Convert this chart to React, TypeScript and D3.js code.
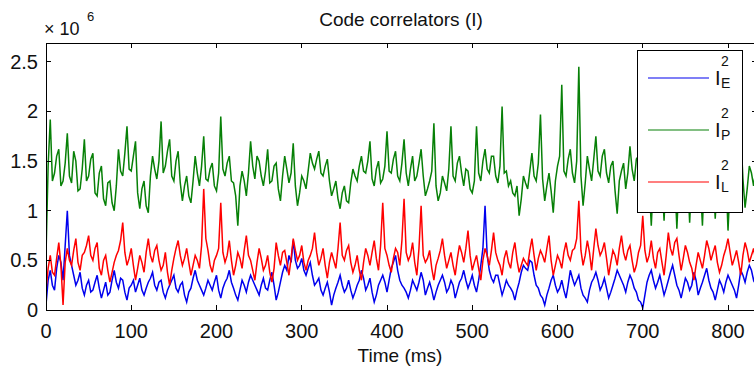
import React from "react";
import * as d3 from "d3";

// samples every 2.5 ms, values in units of 1e6
const SAMPLE_MS = 2.5;

const iP2 = [
  0.55, 1.45, 1.92, 1.3, 1.38, 1.55, 1.62, 1.25, 1.3, 1.48, 1.78, 1.35, 1.28, 1.6, 1.5, 1.2, 1.22, 1.42, 1.72, 1.3,
  1.35, 1.52, 1.58, 1.18, 1.15, 1.38, 1.45, 1.12, 1.05, 1.28, 1.3, 1.08, 1.0, 1.25, 1.62, 1.4, 1.35, 1.58, 1.85, 1.42,
  1.4, 1.55, 1.7, 1.18, 1.02, 1.22, 1.3, 1.05, 0.98, 1.35, 1.55, 1.42, 1.32, 1.5, 1.9, 1.38, 1.45, 1.6, 1.72, 1.35,
  1.3, 1.5, 1.6, 1.28, 1.1, 1.25, 1.35, 1.15, 1.08, 1.3, 1.55, 1.38, 1.25, 1.45, 1.75, 1.32, 1.3, 1.42, 1.48, 1.25,
  1.2, 1.38, 1.95, 1.42, 1.35, 1.48, 1.55, 1.3, 1.28, 1.15, 0.85, 1.25, 1.4, 1.3, 1.15, 1.38, 1.7, 1.45, 1.32, 1.55,
  1.5, 1.35, 1.25, 1.4, 1.62, 1.28, 1.3, 1.45, 1.48, 1.22, 1.1, 1.35, 1.55, 1.42, 1.28, 1.38, 1.68, 1.25, 1.05, 1.18,
  1.35, 1.3, 1.22, 1.4, 1.58, 1.48, 1.42, 1.52, 1.6, 1.38, 1.35, 1.45, 1.52, 1.3, 1.15, 1.22, 1.3, 1.12, 1.02, 1.18,
  1.25, 1.1, 1.08, 1.28, 1.42, 1.35, 1.3, 1.45, 1.55, 1.4, 1.38, 1.5, 1.7, 1.32, 1.25, 1.42, 1.5, 1.28, 1.32, 1.45,
  1.8, 1.4, 1.38, 1.52, 1.6, 1.35, 1.3, 1.48, 1.72, 1.38, 1.25, 1.42, 1.55, 1.3, 1.35, 1.48, 1.62, 1.35, 1.15, 1.22,
  1.3, 1.4, 1.88, 1.25, 1.1, 1.18, 1.35, 1.28, 1.2, 1.42, 1.85, 1.35, 1.3, 1.48, 1.55, 1.38, 1.25, 1.42, 1.4, 1.22,
  1.18, 1.3, 1.85, 1.38, 1.3, 1.5, 1.62, 1.42, 1.38, 1.55, 1.55, 1.35, 1.28, 1.45, 2.05, 1.38, 1.4, 1.25, 1.3, 1.18,
  1.15, 1.25, 0.95, 1.12, 1.35, 1.28, 1.22, 1.4, 1.58, 1.35, 1.3, 1.48, 1.97, 1.32, 1.1, 1.25, 1.38, 1.2, 0.98, 1.3,
  1.45, 1.55, 2.27, 1.4, 1.35, 1.52, 1.62, 1.38, 1.28, 1.5, 2.45, 1.35, 1.05, 1.28, 1.55, 1.42, 1.3, 1.52, 1.75, 1.4,
  1.35, 1.55, 1.62, 1.38, 1.28, 1.45, 1.5, 1.2, 0.97, 1.3, 1.4, 1.48, 1.22, 1.38, 1.65, 1.42, 1.3, 1.52, 1.55, 1.35,
  1.2, 1.4, 1.45, 1.28, 0.85, 1.32, 1.35, 1.45, 1.5, 1.3, 0.9, 1.38, 1.4, 1.5, 1.28, 1.35, 0.82, 1.3, 1.45, 1.42,
  1.3, 1.38, 0.88, 1.35, 1.5, 1.45, 1.32, 1.28, 0.85, 1.4, 1.38, 1.48, 1.25, 1.35, 0.92, 1.3, 1.42, 1.5, 1.3, 1.38,
  0.8, 1.28, 1.35, 1.45, 1.48, 1.55, 1.78, 1.32, 1.03, 1.22, 1.45, 1.38, 1.25, 1.4,
];

const iL2 = [
  0.2, 0.42, 0.55, 0.38, 0.35, 0.52, 0.68, 0.45, 0.05, 0.48, 0.62, 0.5, 0.45, 0.6, 0.72, 0.48, 0.4, 0.55, 0.58, 0.65,
  0.75, 0.55, 0.5, 0.62, 0.68, 0.42, 0.35, 0.5, 0.55, 0.4, 0.28, 0.38, 0.48, 0.55, 0.6, 0.7, 0.88, 0.58, 0.45, 0.52,
  0.62, 0.45, 0.3, 0.42, 0.55, 0.48, 0.38, 0.58, 0.72, 0.55, 0.48, 0.6, 0.65, 0.5, 0.4, 0.45, 0.58, 0.38, 0.25, 0.4,
  0.52, 0.62, 0.7, 0.55, 0.45, 0.52, 0.62, 0.48, 0.35, 0.45, 0.55, 0.5, 0.42, 0.65, 1.22, 0.72, 0.6, 0.45, 0.38, 0.5,
  0.55, 0.62, 1.08, 0.58, 0.48, 0.55, 0.7, 0.5, 0.35, 0.45, 0.58, 0.52, 0.42, 0.6, 0.75, 0.55, 0.5, 0.4, 0.3, 0.48,
  0.62, 0.52, 0.4, 0.45, 0.55, 0.38, 0.28, 0.42, 0.68, 0.55, 0.45, 0.58, 0.6, 0.48, 0.35, 0.52, 0.72, 0.6, 0.5, 0.55,
  0.65, 0.48, 0.4, 0.5, 0.55, 0.62, 0.78, 0.58, 0.45, 0.52, 0.62, 0.45, 0.32, 0.48, 0.58, 0.5, 0.42, 0.62, 0.88, 0.55,
  0.5, 0.6, 0.65, 0.48, 0.38, 0.45, 0.55, 0.4, 0.3, 0.48, 0.62, 0.55, 0.45, 0.58, 0.7, 0.52, 0.4, 0.65, 1.08, 0.62,
  0.55, 0.45, 0.38, 0.52, 0.62, 0.58, 0.45, 0.7, 1.12, 0.58, 0.5, 0.55, 0.68, 0.48, 0.35, 0.62, 1.05, 0.55, 0.48, 0.52,
  0.6, 0.42, 0.3, 0.45, 0.52, 0.6, 0.72, 0.55, 0.42, 0.5, 0.58, 0.45, 0.35, 0.52, 0.65, 0.58, 0.48, 0.62, 0.8, 0.55,
  0.4, 0.48, 0.55, 0.42, 0.3, 0.5, 0.62, 0.55, 0.45, 0.6, 0.78, 0.58, 0.5, 0.45, 0.35, 0.52, 0.6, 0.48, 0.42, 0.58,
  0.68, 0.5, 0.38, 0.45, 0.52, 0.48, 0.45, 0.6, 0.72, 0.55, 0.4, 0.52, 0.6, 0.55, 0.48, 0.62, 0.75, 0.5, 0.35, 0.45,
  0.55, 0.5, 0.42, 0.58, 0.68, 0.55, 0.5, 0.6, 0.62, 0.72, 1.1, 0.6, 0.45, 0.55, 0.7, 0.58, 0.4, 0.62, 0.82, 0.65,
  0.55, 0.6, 0.68, 0.52, 0.35, 0.48, 0.6, 0.55, 0.45, 0.62, 0.75, 0.58, 0.5, 0.6, 0.65, 0.5, 0.38, 0.45, 0.58, 0.65,
  0.95, 0.6, 0.48, 0.55, 0.7, 0.52, 0.42, 0.58, 0.62, 0.48, 0.35, 0.55, 0.78, 0.62, 0.55, 0.68, 0.72, 0.55, 0.4, 0.52,
  0.65, 0.58, 0.48, 0.42, 0.3, 0.45, 0.58, 0.5, 0.42, 0.55, 0.7, 0.62, 0.5, 0.58, 0.65, 0.48, 0.38, 0.45, 0.55, 0.62,
  0.72, 0.58, 0.45, 0.52, 0.6, 0.48, 0.35, 0.55, 0.68, 0.6, 0.48, 0.55, 0.62, 0.5,
];

const iE2 = [
  0.05, 0.3, 0.4, 0.25, 0.2, 0.42, 0.55, 0.48, 0.3, 0.65, 1.0, 0.55, 0.45, 0.35, 0.25, 0.3, 0.38, 0.22, 0.15, 0.25,
  0.3, 0.18, 0.2, 0.28, 0.35, 0.22, 0.12, 0.2, 0.28, 0.15, 0.18, 0.3, 0.4, 0.28, 0.22, 0.32, 0.3, 0.18, 0.1, 0.22,
  0.25, 0.3, 0.18, 0.25, 0.32, 0.2, 0.15, 0.22, 0.28, 0.32, 0.38, 0.25, 0.2, 0.28, 0.3, 0.18, 0.12, 0.2, 0.25, 0.3,
  0.35, 0.22, 0.18, 0.25, 0.28, 0.15, 0.08, 0.18, 0.22, 0.32, 0.4, 0.3, 0.25, 0.2, 0.15, 0.22, 0.3, 0.25, 0.2, 0.28,
  0.35, 0.2, 0.12, 0.22, 0.28, 0.32, 0.4, 0.28, 0.22, 0.15, 0.1, 0.2, 0.3, 0.25, 0.18, 0.28, 0.35, 0.3, 0.25, 0.2,
  0.15, 0.25, 0.32, 0.22, 0.2, 0.3, 0.38, 0.25, 0.1, 0.18, 0.28, 0.38, 0.45, 0.4, 0.55, 0.48, 0.7, 0.5, 0.42, 0.45,
  0.52, 0.4, 0.35, 0.42, 0.48, 0.35, 0.25, 0.28, 0.32, 0.2, 0.15, 0.22, 0.28, 0.18, 0.05, 0.15, 0.22, 0.28, 0.35, 0.25,
  0.18, 0.22, 0.3, 0.2, 0.12, 0.18, 0.25, 0.3, 0.4, 0.32, 0.2, 0.25, 0.32, 0.18, 0.08, 0.15, 0.25, 0.3, 0.35, 0.28,
  0.18, 0.3, 0.42, 0.48, 0.55, 0.4, 0.3, 0.25, 0.22, 0.18, 0.12, 0.2, 0.3, 0.25, 0.2, 0.28, 0.38, 0.3, 0.15, 0.22,
  0.28, 0.2, 0.1, 0.18, 0.25, 0.3, 0.35, 0.28, 0.18, 0.22, 0.3, 0.25, 0.12, 0.2, 0.28, 0.32, 0.4, 0.3, 0.22, 0.28,
  0.35, 0.25, 0.18, 0.3, 0.45, 0.62, 1.05, 0.55, 0.4, 0.32, 0.28, 0.35, 0.35, 0.25, 0.15, 0.22, 0.3, 0.25, 0.22, 0.18,
  0.1, 0.2, 0.28, 0.38, 0.45, 0.42, 0.4, 0.5, 0.48, 0.35, 0.25, 0.22, 0.15, 0.12, 0.05, 0.15, 0.22, 0.3, 0.35, 0.25,
  0.18, 0.22, 0.3, 0.2, 0.12, 0.25, 0.4, 0.32, 0.25, 0.3, 0.35, 0.22, 0.15, 0.12, 0.08, 0.2, 0.28, 0.32, 0.38, 0.3,
  0.2, 0.25, 0.32, 0.22, 0.12, 0.18, 0.25, 0.32, 0.4, 0.35, 0.3, 0.25, 0.18, 0.28, 0.35, 0.3, 0.22, 0.18, 0.1, 0.08,
  0.02, 0.15, 0.28, 0.35, 0.4, 0.3, 0.22, 0.28, 0.35, 0.25, 0.15, 0.22, 0.3, 0.38, 0.45, 0.35, 0.25, 0.2, 0.12, 0.22,
  0.32, 0.28, 0.2, 0.25, 0.38, 0.3, 0.15, 0.22, 0.28, 0.35, 0.42, 0.3, 0.22, 0.18, 0.1, 0.2, 0.3, 0.25, 0.18, 0.28,
  0.35, 0.3, 0.25, 0.2, 0.12, 0.25, 0.4, 0.35, 0.28, 0.38, 0.45, 0.4, 0.3, 0.35,
];

const xTicks = [0, 100, 200, 300, 400, 500, 600, 700, 800];
const yTicks = [0, 0.5, 1, 1.5, 2, 2.5];

const series = [
  { key: "E", values: iE2, color: "#0000ee" },
  { key: "P", values: iP2, color: "#078007" },
  { key: "L", values: iL2, color: "#ff0000" },
];

const WIDTH = 754;
const HEIGHT = 372;
const PLOT = { left: 46, right: 757, top: 43, bottom: 310 };
const FONT = "'Liberation Sans', Arial, Helvetica, sans-serif";
const TICK = 5;

export default function App() {
  const x = d3.scaleLinear().domain([0, 834]).range([PLOT.left, PLOT.right]);
  const y = d3.scaleLinear().domain([0, 2.69]).range([PLOT.bottom, PLOT.top]);

  const line = d3
    .line<number>()
    .x((_, i) => x(i * SAMPLE_MS))
    .y((d) => y(d));

  const legendRows = series.map((s, i) => ({ ...s, cy: 78 + i * 52 }));

  return (
    <svg
      width={WIDTH}
      height={HEIGHT}
      style={{ position: "absolute", left: 0, top: 0, background: "#fff" }}
      fontFamily={FONT}
    >
      <defs>
        <clipPath id="plot-clip">
          <rect x={PLOT.left} y={PLOT.top} width={PLOT.right - PLOT.left} height={PLOT.bottom - PLOT.top} />
        </clipPath>
      </defs>

      <g clipPath="url(#plot-clip)">
        {series.map((s) => (
          <path key={s.key} d={line(s.values) || ""} fill="none" stroke={s.color} strokeWidth={1.5} />
        ))}
      </g>

      {/* axes box */}
      <g stroke="#000" strokeWidth={1} shapeRendering="crispEdges">
        <line x1={PLOT.left} x2={PLOT.right} y1={PLOT.top} y2={PLOT.top} />
        <line x1={PLOT.left} x2={PLOT.right} y1={PLOT.bottom} y2={PLOT.bottom} />
        <line x1={PLOT.left} x2={PLOT.left} y1={PLOT.top} y2={PLOT.bottom} />
        <line x1={PLOT.right} x2={PLOT.right} y1={PLOT.top} y2={PLOT.bottom} />
        {xTicks.map((t) => (
          <g key={t}>
            <line x1={x(t)} x2={x(t)} y1={PLOT.bottom} y2={PLOT.bottom - TICK} />
            <line x1={x(t)} x2={x(t)} y1={PLOT.top} y2={PLOT.top + TICK} />
          </g>
        ))}
        {yTicks.map((t) => (
          <g key={t}>
            <line x1={PLOT.left} x2={PLOT.left + TICK} y1={y(t)} y2={y(t)} />
            <line x1={PLOT.right} x2={PLOT.right - TICK} y1={y(t)} y2={y(t)} />
          </g>
        ))}
      </g>

      {xTicks.map((t) => (
        <text key={t} x={x(t)} y={338} textAnchor="middle" fontSize={20} fill="#111">
          {t}
        </text>
      ))}
      {yTicks.map((t) => (
        <text key={t} x={38} y={y(t) + 7} textAnchor="end" fontSize={20} fill="#111">
          {t}
        </text>
      ))}

      <text x={44} y={35} fontSize={18} fill="#111">
        × 10
      </text>
      <text x={87} y={21} fontSize={13} fill="#111">
        6
      </text>

      <text x={401} y={26} textAnchor="middle" fontSize={19} fill="#111">
        Code correlators (I)
      </text>
      <text x={400} y={362} textAnchor="middle" fontSize={19} fill="#111">
        Time (ms)
      </text>

      {/* legend */}
      <rect x={637} y={50} width={105} height={162} fill="#fff" stroke="#000" strokeWidth={1} shapeRendering="crispEdges" />
      {legendRows.map((r) => (
        <g key={r.key}>
          <line x1={648} x2={709} y1={r.cy} y2={r.cy} stroke={r.color} strokeWidth={1.1} />
          <text x={715} y={r.cy + 7} fontSize={20} fill="#111">
            I
          </text>
          <text x={721} y={r.cy - 12} fontSize={14} fill="#111">
            2
          </text>
          <text x={721} y={r.cy + 10} fontSize={14} fill="#111">
            {r.key}
          </text>
        </g>
      ))}
    </svg>
  );
}
